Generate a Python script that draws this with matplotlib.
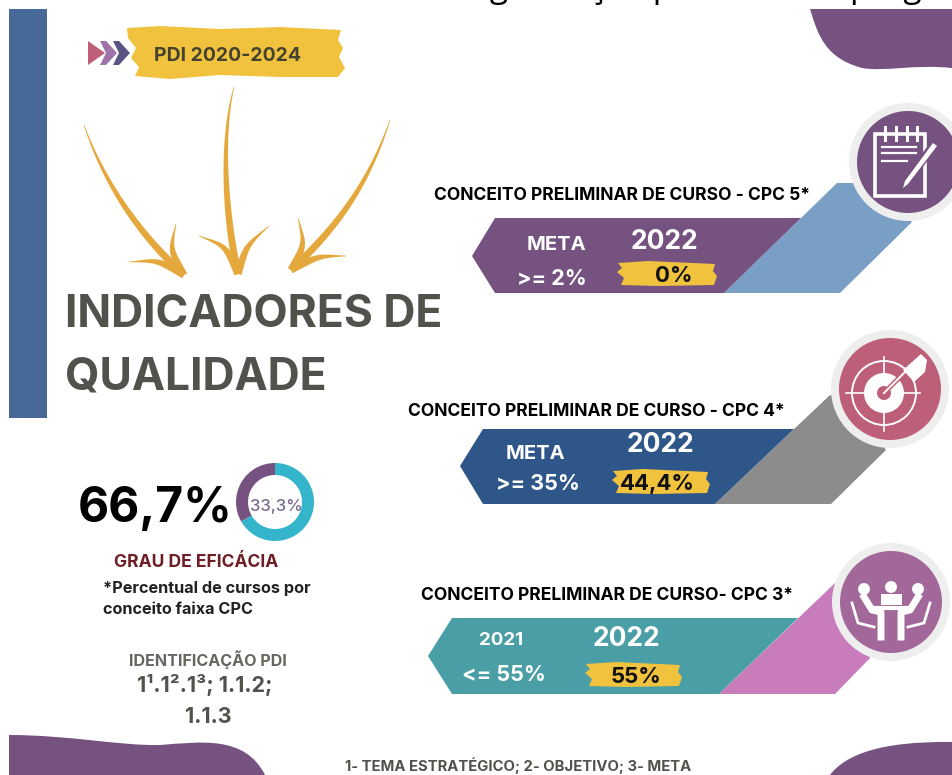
## Indicadores de qualidade - PDI 2020-2024 infographic
import numpy as np
import matplotlib
matplotlib.use('Agg')
import matplotlib.pyplot as plt
from matplotlib.patches import Polygon, Circle, Wedge, Rectangle, PathPatch
from matplotlib.path import Path

## Data
title_lines = ['INDICADORES DE', 'QUALIDADE']
pdi_label = 'PDI 2020-2024'
cards = ['CONCEITO PRELIMINAR DE CURSO - CPC 5*', 'CONCEITO PRELIMINAR DE CURSO - CPC 4*', 'CONCEITO PRELIMINAR DE CURSO- CPC 3*']
left_heads = ['META', 'META', '2021']
left_values = ['>= 2%', '>= 35%', '<= 55%']
year_heads = ['2022', '2022', '2022']
year_values = ['0%', '44,4%', '55%']
efficacy = 66.7
remainder = 33.3

## Colours
purple = '#75527f'; blue = '#2f5689'; teal = '#4a9ea6'; side_blue = '#7a9fc4'; grey = '#8c8c8c'
pink = '#c97cbb'; rose = '#bd5f78'; mauve = '#a2689a'; yellow = '#f1c23e'; arrow = '#e5a83c'; dark = '#50524c'

plt.rcParams['font.family'] = ['Inter', 'DejaVu Sans']
fig = plt.figure(figsize=(9.52, 7.75), dpi=100)
ax = fig.add_axes([0, 0, 1, 1])
ax.set_xlim(0, 952); ax.set_ylim(775, 0); ax.axis('off')

def poly(pts, c, z=2):
    ax.add_patch(Polygon(pts, closed=True, fc=c, ec='none', zorder=z))

def curve(verts, c, z=2):
    # first point is moveto, the rest are cubic triples
    codes = [Path.MOVETO] + [Path.CURVE4] * (len(verts) - 1) + [Path.CLOSEPOLY]
    ax.add_patch(PathPatch(Path(verts + [verts[0]], codes), fc=c, ec='none', zorder=z))

def txt(x, y, s, size, c='black', weight='bold', ha='center', **kw):
    # va center sits a little high for capitals, push it down with the size
    return ax.text(x, y + size * 0.13, s, fontsize=size, color=c, fontweight=weight, ha=ha, va='center', zorder=6, **kw)

## Cut off line of text at the top, only the descenders show
ax.text(456, -3, 'organização para', fontsize=24, family='Open Sans', color='black', va='baseline', zorder=1)
ax.text(849, -3, 'programa', fontsize=24, family='Open Sans', color='black', va='baseline', zorder=1)

## Side bar and purple blobs
ax.add_patch(Rectangle((9, 9), 38, 409, fc='#46699a', ec='none', zorder=2))
curve([(810, 9), (818, 35), (825, 58), (862, 68), (885, 72), (915, 64), (952, 68), (952, 48), (952, 28), (952, 9), (900, 9), (850, 9)], purple)
curve([(9, 735), (70, 735), (120, 746), (160, 745), (200, 742), (245, 735), (265, 775), (200, 775), (100, 775), (9, 775)], purple)
curve([(830, 775), (845, 755), (880, 741), (952, 742), (952, 750), (952, 765), (952, 775), (910, 775), (870, 775), (830, 775)], purple)

## PDI brush label with chevrons
brush_top = np.array([[127, 28], [160, 26], [220, 29], [280, 27], [341, 30], [338, 40], [343, 48], [339, 57], [345, 68], [338, 77]])
brush_bottom = np.array([[280, 77], [220, 75], [170, 79], [135, 76], [139, 67], [131, 58], [136, 48], [128, 38]])
poly(np.vstack([brush_top, brush_bottom]), yellow, 3)
poly([(88, 41), (105, 53), (88, 65)], rose, 4)
for x0, c in zip([100, 113], ['#a072ab', '#5a5484']):
    poly([(x0, 41), (x0 + 6, 41), (x0 + 17, 53), (x0 + 6, 65), (x0, 65), (x0 + 6, 53)], c, 4)
txt(228, 54, pdi_label, 14, '#45432e')

## Hand drawn arrows
def taper(p0, p1, p2, p3, w0, w1, z=3):
    t = np.linspace(0, 1, 40)[:, None]
    p0, p1, p2, p3 = [np.array(v, float) for v in [p0, p1, p2, p3]]
    pts = (1-t)**3*p0 + 3*(1-t)**2*t*p1 + 3*(1-t)*t**2*p2 + t**3*p3
    normal = np.gradient(pts, axis=0)[:, ::-1] * np.array([1, -1])
    normal = normal / np.linalg.norm(normal, axis=1, keepdims=True)
    width = w0 + (w1 - w0) * np.sin(t * np.pi / 2)
    poly(np.vstack([pts + normal * width, (pts - normal * width)[::-1]]), arrow, z)

def hand_arrow(start, c1, c2, tip, barb1, barb2):
    taper(start, c1, c2, tip, 0.3, 3.6)
    for b, m in (barb1, barb2):
        taper(b, m, m, tip, 0.3, 3.6)

hand_arrow((84, 125), (105, 185), (140, 235), (184, 275), ((176, 224), (170, 250)), ((129, 262), (158, 260)))
hand_arrow((234, 87), (220, 140), (226, 220), (238, 274), ((199, 236), (226, 246)), ((269, 226), (246, 246)))
hand_arrow((390, 120), (370, 180), (340, 225), (291, 270), ((298, 218), (305, 245)), ((346, 256), (318, 256)))

## Title
txt(65, 311, title_lines[0], 32, dark, ha='left')
txt(65, 373, title_lines[1], 32, dark, ha='left')

## Cards: band + slanted side + icon disc
band_pts = [[(472, 256), (495, 218), (801, 218), (724, 293), (495, 293)],
            [(460, 466), (483, 429), (794, 429), (715, 504), (483, 504)],
            [(428, 656), (452, 618), (798, 618), (719, 694), (452, 694)]]
side_pts = [[(724, 293), (837, 183), (880, 183), (912, 222), (840, 293)],
            [(715, 504), (830, 395), (850, 400), (886, 450), (831, 504)],
            [(719, 694), (835, 583), (860, 600), (870, 658), (835, 694)]]
band_cols = [purple, blue, teal]
side_cols = [side_blue, grey, pink]
disc_cols = [purple, rose, mauve]
disc_xy = [(908, 162), (890, 389), (891, 602)]
title_xy = [(622, 194), (596, 410), (607, 594)]
head_x = [556, 535, 501]; head_y = [243, 452, 639]
val_x = [552, 538, 504]; val_y = [277, 482, 673]
year_x = [664, 661, 627]; year_y = [240, 443, 637]
chip_x = [(618, 716), (613, 709), (586, 681)]; chip_y = [274, 482, 675]
chip_txt_x = [674, 657, 636]

for i in range(3):
    poly(side_pts[i], side_cols[i], 2)
    poly(band_pts[i], band_cols[i], 3)
    dx, dy = disc_xy[i]
    ax.add_patch(Circle((dx, dy), 59, fc='#eeeeee', ec='none', zorder=4))
    ax.add_patch(Circle((dx, dy), 51, fc=disc_cols[i], ec='none', zorder=5))
    txt(title_xy[i][0], title_xy[i][1], cards[i], 12.6)
    txt(head_x[i], head_y[i], left_heads[i], 14.5 if i < 2 else 13.5, 'white')
    txt(val_x[i], val_y[i], left_values[i], 15.5, 'white')
    txt(year_x[i], year_y[i], year_heads[i], 19, 'white')
    x0, x1 = chip_x[i]; cy = chip_y[i]
    poly([(x0, cy - 11), (x0 + 30, cy - 13), (x1 - 1, cy - 10), (x1 - 3, cy - 3), (x1 + 1, cy + 2), (x1 - 2, cy + 11),
          (x0 + 40, cy + 12), (x0 + 3, cy + 11), (x0 + 6, cy + 4), (x0 - 1, cy - 2), (x0 + 4, cy - 6)], yellow, 5)
    txt(chip_txt_x[i], cy, year_values[i], 16, '#111111')

## Icon 1: notepad and pencil
ax.add_patch(Rectangle((875, 134), 50, 62, fc='none', ec='white', lw=2.6, zorder=6))
for x0 in [885, 896, 907, 917]:
    ax.plot([x0, x0], [127, 140], color='white', lw=2.2, zorder=7)
for y0, x1 in [(147, 916), (153, 916), (161, 907)]:
    ax.plot([882, x1], [y0, y0], color='white', lw=1.6, zorder=7)
poly([(932, 140), (939, 145), (909, 186), (900, 192), (903, 180)], purple, 7)
poly([(933, 143), (937, 146), (908, 184), (903, 188), (905, 181)], 'white', 8)

## Icon 2: target
tx, ty = 884, 393
ax.add_patch(Circle((tx, ty), 32, fc='none', ec='white', lw=1.4, zorder=6))
ax.plot([tx, tx], [ty - 36, ty + 38], color='white', lw=1.2, zorder=6)
ax.plot([tx - 38, tx + 36], [ty, ty], color='white', lw=1.2, zorder=6)
ax.add_patch(Circle((tx, ty), 20, fc='white', ec='none', zorder=6))
ax.add_patch(Circle((tx, ty), 7, fc=rose, ec='none', zorder=7))
ax.plot([tx, tx + 24], [ty, ty - 24], color=rose, lw=3.5, zorder=8)
ax.plot([tx, tx + 24], [ty, ty - 24], color='white', lw=1.4, zorder=9)
poly([(903, 370), (921, 354), (927, 360), (925, 372), (914, 382)], 'white', 9)

## Icon 3: meeting table
for hx, hy in [(864, 589), (891, 587), (918, 589)]:
    ax.add_patch(Circle((hx, hy), 6, fc='white', ec='none', zorder=6))
ax.add_patch(Rectangle((881, 594), 21, 11, fc='white', ec='none', zorder=6))
ax.plot([874, 910], [608, 608], color='white', lw=3, zorder=7)
for s in (-1, 1):
    ax.plot([891 + s*27, 891 + s*19, 891 + s*10, 891 + s*10], [597, 610, 612, 637], color='white', lw=5, zorder=6)
    ax.plot([891 + s*39, 891 + s*33, 891 + s*17], [603, 623, 627], color='white', lw=2, zorder=6)

## Efficacy figure and donut, the y axis is inverted so angles run clockwise on screen
txt(155, 505, '66,7%', 34.5, 'black')
split = 270 + efficacy / (efficacy + remainder) * 360
ax.add_patch(Wedge((275, 502), 39, 270, split, width=12, fc='#34b5cc', ec='none', zorder=3))
ax.add_patch(Wedge((275, 502), 39, split, 630, width=12, fc=purple, ec='none', zorder=3))
txt(276, 505, '33,3%', 12, '#7a6a8a', weight='medium')

txt(196, 561, 'GRAU DE EFICÁCIA', 12.6, '#6e1f26')
txt(103, 587, '*Percentual de cursos por', 11.7, '#222222', ha='left')
txt(103, 608, 'conceito faixa CPC', 11.7, '#222222', ha='left')
txt(208, 658, 'IDENTIFICAÇÃO PDI', 11.6, '#66655f')
txt(205, 683, '1¹.1².1³; 1.1.2;', 15.5, dark)
txt(208, 715, '1.1.3', 15.5, dark)
txt(518, 764, '1- TEMA ESTRATÉGICO; 2- OBJETIVO; 3- META', 10.7, dark)

plt.savefig('out.png', dpi=100, facecolor='white')
